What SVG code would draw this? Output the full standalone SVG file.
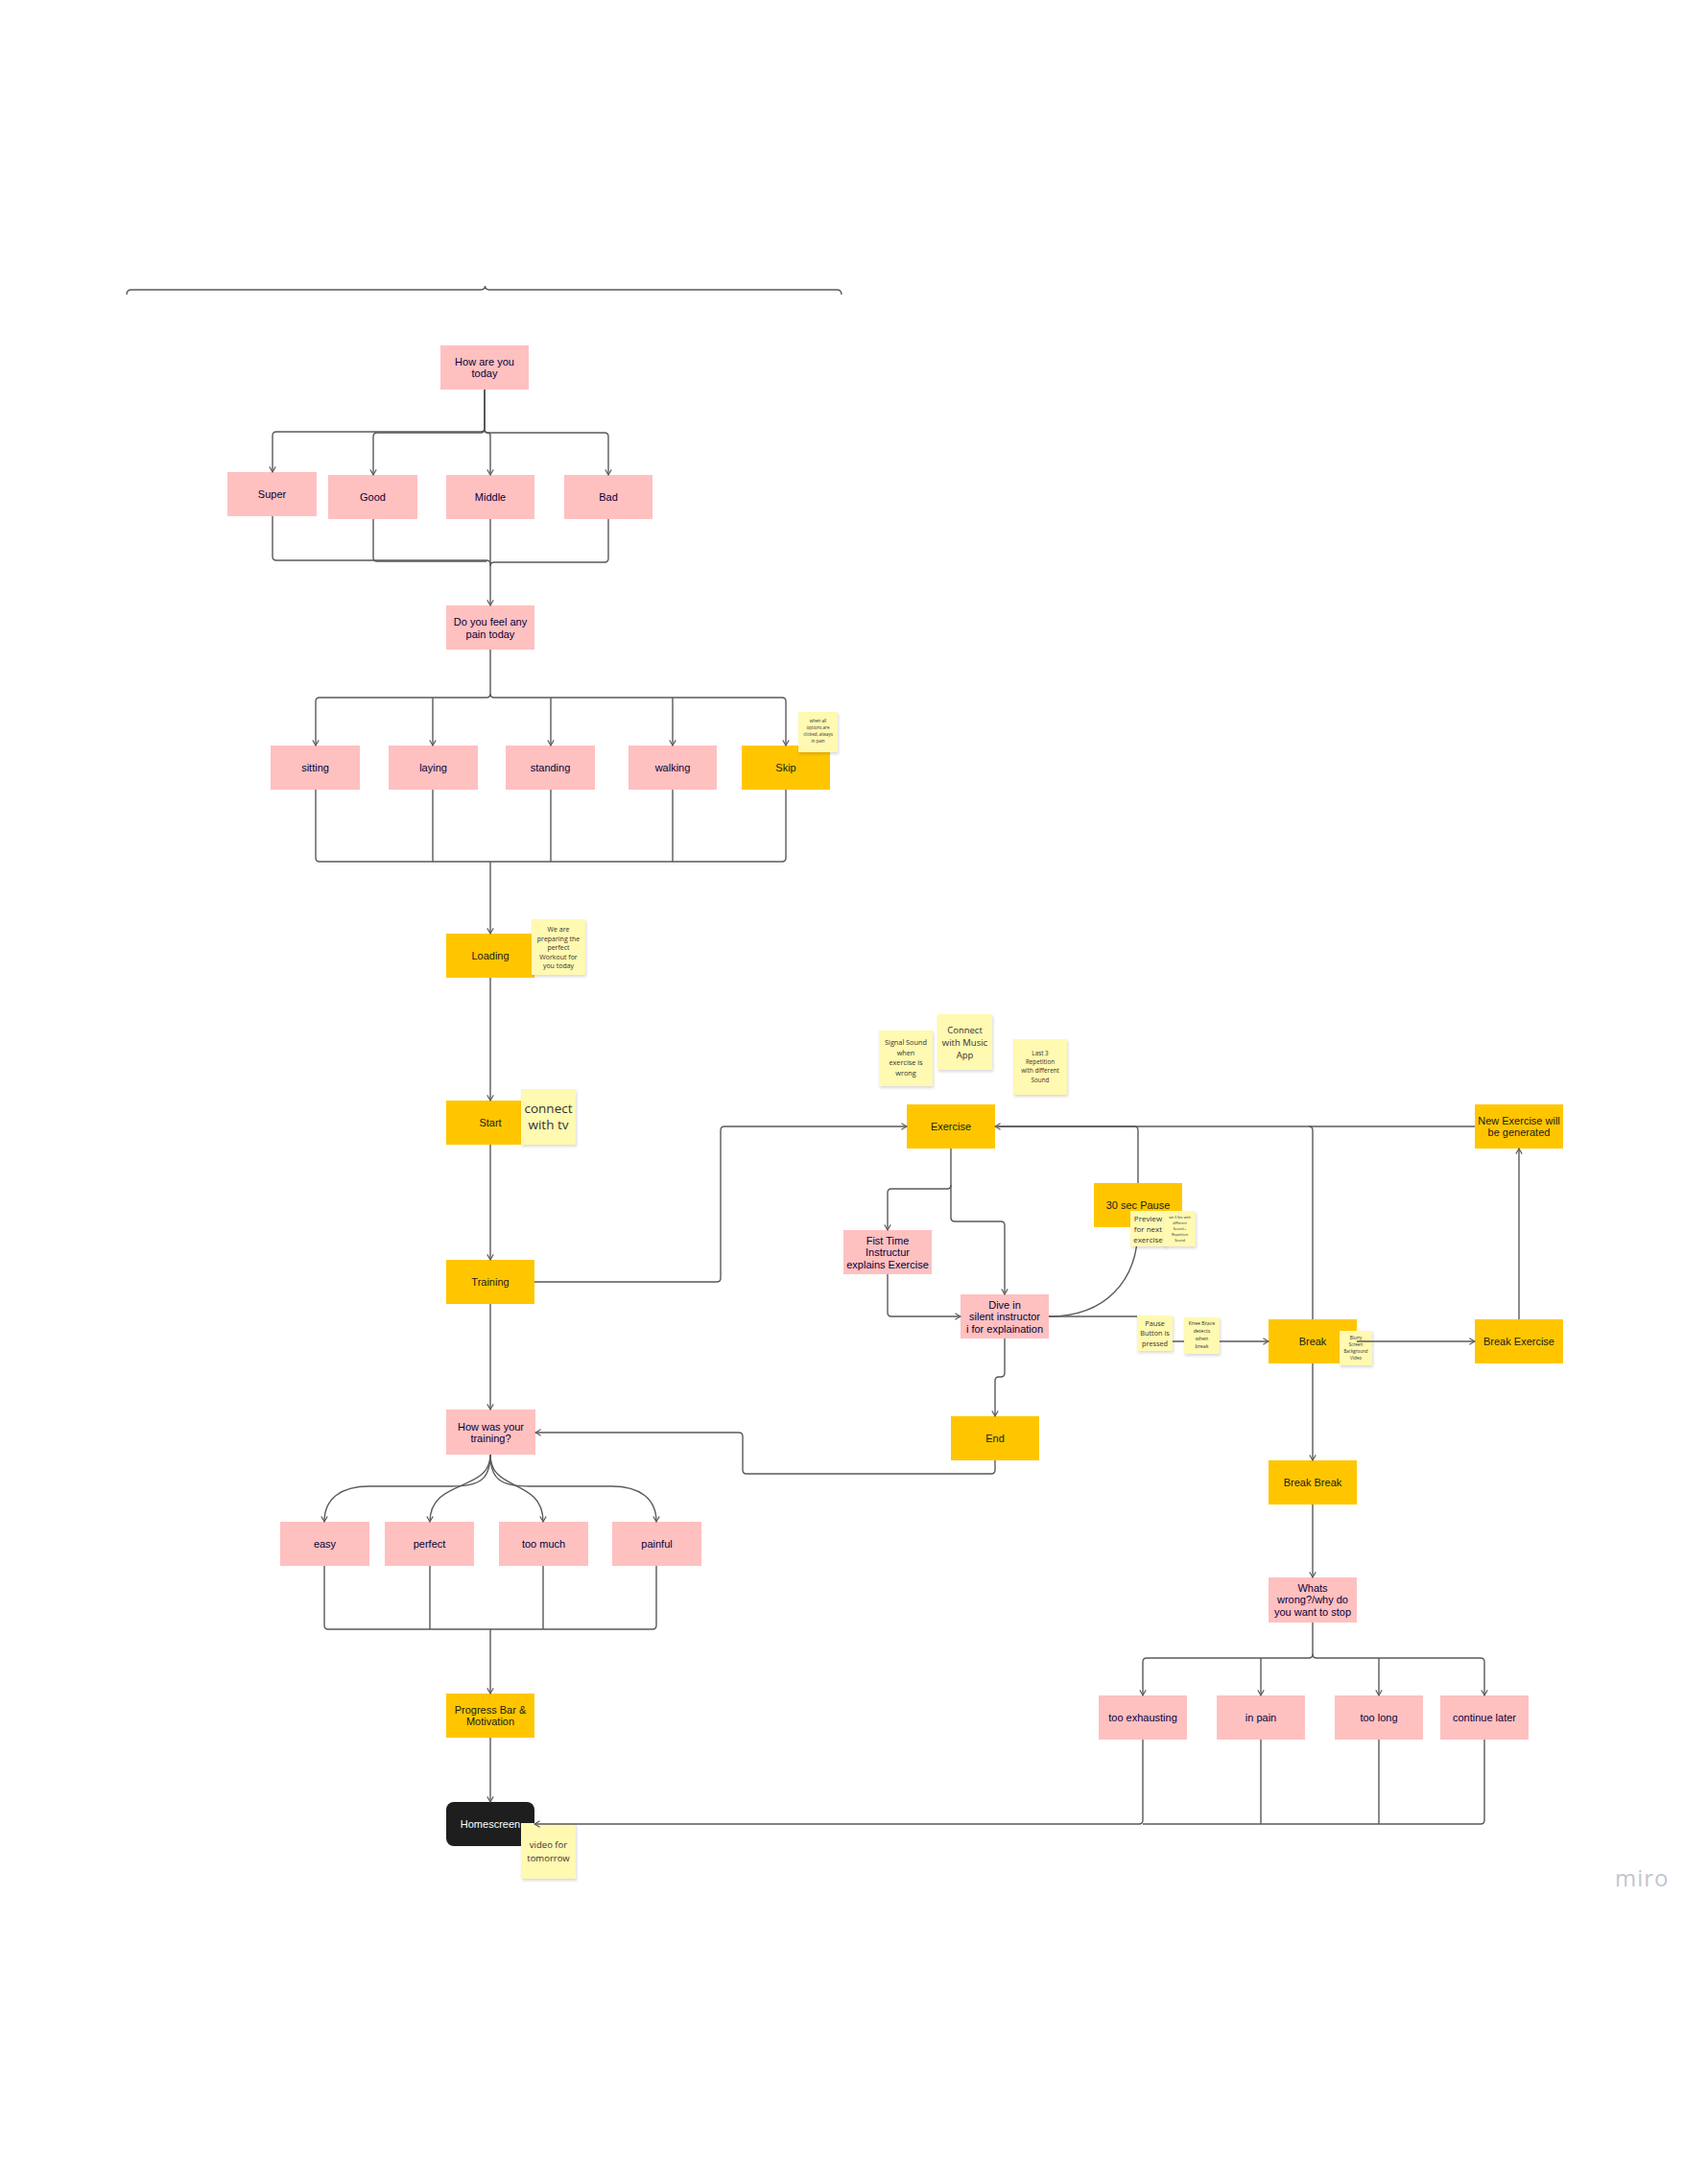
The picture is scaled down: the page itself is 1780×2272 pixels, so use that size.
<svg xmlns="http://www.w3.org/2000/svg" width="1780" height="2272" viewBox="0 0 1780 2272">
<style>
.p{fill:#FFC0C0}
.o{fill:#FFC600}
.t{font-family:"Liberation Sans",Arial,sans-serif;font-size:11px;fill:#050038;text-anchor:middle;dominant-baseline:central}
.tk{font-family:"Liberation Sans",Arial,sans-serif;font-size:11px;fill:#1a1a1a;text-anchor:middle;dominant-baseline:central}
.s{fill:#FFF9B1;filter:url(#sh)}
.st{font-family:"Open Sans","Noto Sans",sans-serif;fill:#333;text-anchor:middle;dominant-baseline:central}
.c{fill:none;stroke:#5a5a5a;stroke-width:1.4}
.ca{fill:none;stroke:#5a5a5a;stroke-width:1.4;marker-end:url(#a)}
</style>
<defs>
<marker id="a" viewBox="0 0 10 10" refX="9" refY="5" markerWidth="8" markerHeight="8" orient="auto" markerUnits="userSpaceOnUse">
<path d="M2,1 L9,5 L2,9" fill="none" stroke="#5a5a5a" stroke-width="1.4"/>
</marker>
<filter id="sh" x="-20%" y="-20%" width="150%" height="150%">
<feDropShadow dx="1" dy="2" stdDeviation="1.5" flood-color="#000" flood-opacity="0.15"/>
</filter>
</defs>
<rect width="1780" height="2272" fill="#fff"/>

<!-- brace -->
<path class="c" d="M132,307 Q132,302 137,302 H500.5 Q505.5,302 505.5,298 Q505.5,302 510.5,302 H872 Q877,302 877,307" stroke="#666"/>

<g id="nodes">
<g id="howareyou"><rect class="p" x="459" y="360" width="92" height="46"/><text class="t" x="505" y="377">How are you</text><text class="t" x="505" y="389">today</text></g>
<g id="super"><rect class="p" x="237" y="492" width="93" height="46"/><text class="t" x="283.5" y="515">Super</text></g>
<g id="good"><rect class="p" x="342" y="495" width="93" height="46"/><text class="t" x="388.5" y="518">Good</text></g>
<g id="middle"><rect class="p" x="465" y="495" width="92" height="46"/><text class="t" x="511" y="518">Middle</text></g>
<g id="bad"><rect class="p" x="588" y="495" width="92" height="46"/><text class="t" x="634" y="518">Bad</text></g>
<g id="doyoufeel"><rect class="p" x="465" y="631" width="92" height="46"/><text class="t" x="511" y="648">Do you feel any</text><text class="t" x="511" y="661">pain today</text></g>
<g id="sitting"><rect class="p" x="282" y="777" width="93" height="46"/><text class="t" x="328.5" y="800">sitting</text></g>
<g id="laying"><rect class="p" x="405" y="777" width="93" height="46"/><text class="t" x="451.5" y="800">laying</text></g>
<g id="standing"><rect class="p" x="527" y="777" width="93" height="46"/><text class="t" x="573.5" y="800">standing</text></g>
<g id="walking"><rect class="p" x="655" y="777" width="92" height="46"/><text class="t" x="701" y="800">walking</text></g>
<g id="skip"><rect class="o" x="773" y="777" width="92" height="46"/><text class="tk" x="819" y="800">Skip</text></g>
<g id="loading"><rect class="o" x="465" y="973" width="92" height="46"/><text class="tk" x="511" y="996">Loading</text></g>
<g id="start"><rect class="o" x="465" y="1147" width="92" height="46"/><text class="tk" x="511" y="1170">Start</text></g>
<g id="training"><rect class="o" x="465" y="1313" width="92" height="46"/><text class="tk" x="511" y="1336">Training</text></g>
<g id="exercise"><rect class="o" x="945" y="1151" width="92" height="46"/><text class="tk" x="991" y="1174">Exercise</text></g>
<g id="fisttime"><rect class="p" x="879" y="1282" width="92" height="46"/><text class="t" x="925" y="1293">Fist Time</text><text class="t" x="925" y="1305">Instructur</text><text class="t" x="925" y="1318">explains Exercise</text></g>
<g id="dive"><rect class="p" x="1001" y="1349" width="92" height="46"/><text class="t" x="1047" y="1360">Dive in</text><text class="t" x="1047" y="1372">silent instructor</text><text class="t" x="1047" y="1385">i for explaination</text></g>
<g id="pause30"><rect class="o" x="1140" y="1233" width="92" height="46"/><text class="tk" x="1186" y="1256">30 sec Pause</text></g>
<g id="end"><rect class="o" x="991" y="1476" width="92" height="46"/><text class="tk" x="1037" y="1499">End</text></g>
<g id="newex"><rect class="o" x="1537" y="1151" width="92" height="46"/><text class="tk" x="1583" y="1168">New Exercise will</text><text class="tk" x="1583" y="1180">be generated</text></g>
<g id="break"><rect class="o" x="1322" y="1375" width="92" height="46"/><text class="tk" x="1368" y="1398">Break</text></g>
<g id="breakex"><rect class="o" x="1537" y="1375" width="92" height="46"/><text class="tk" x="1583" y="1398">Break Exercise</text></g>
<g id="breakbreak"><rect class="o" x="1322" y="1522" width="92" height="46"/><text class="tk" x="1368" y="1545">Break Break</text></g>
<g id="whats"><rect class="p" x="1322" y="1644" width="92" height="47"/><text class="t" x="1368" y="1655">Whats</text><text class="t" x="1368" y="1667">wrong?/why do</text><text class="t" x="1368" y="1680">you want to stop</text></g>
<g id="tooexh"><rect class="p" x="1145" y="1767" width="92" height="46"/><text class="t" x="1191" y="1790">too exhausting</text></g>
<g id="inpain"><rect class="p" x="1268" y="1767" width="92" height="46"/><text class="t" x="1314" y="1790">in pain</text></g>
<g id="toolong"><rect class="p" x="1391" y="1767" width="92" height="46"/><text class="t" x="1437" y="1790">too long</text></g>
<g id="contlater"><rect class="p" x="1501" y="1767" width="92" height="46"/><text class="t" x="1547" y="1790">continue later</text></g>
<g id="howwas"><rect class="p" x="465" y="1469" width="93" height="47"/><text class="t" x="511.5" y="1487">How was your</text><text class="t" x="511.5" y="1499">training?</text></g>
<g id="easy"><rect class="p" x="292" y="1586" width="93" height="46"/><text class="t" x="338.5" y="1609">easy</text></g>
<g id="perfect"><rect class="p" x="401" y="1586" width="93" height="46"/><text class="t" x="447.5" y="1609">perfect</text></g>
<g id="toomuch"><rect class="p" x="520" y="1586" width="93" height="46"/><text class="t" x="566.5" y="1609">too much</text></g>
<g id="painful"><rect class="p" x="638" y="1586" width="93" height="46"/><text class="t" x="684.5" y="1609">painful</text></g>
<g id="progress"><rect class="o" x="465" y="1765" width="92" height="46"/><text class="tk" x="511" y="1782">Progress Bar &amp;</text><text class="tk" x="511" y="1794">Motivation</text></g>
<g id="homescreen"><rect x="465" y="1878" width="92" height="46" rx="8" fill="#1e1e1e"/><text class="tk" x="511" y="1901" style="fill:#fff">Homescreen</text></g>
<g id="note-blurry"><rect class="s" x="1396" y="1387" width="34" height="36"/><text class="st" font-size="4.5"><tspan x="1413" y="1394">Blurry</tspan><tspan x="1413" y="1401">Screen</tspan><tspan x="1413" y="1408">Background</tspan><tspan x="1413" y="1415">Video</tspan></text></g>
<g id="note-video"><rect class="s" x="543" y="1900" width="57" height="58"/><text class="st" font-size="9.5"><tspan x="571.5" y="1922">video for</tspan><tspan x="571.5" y="1936">tomorrow</tspan></text></g>
</g>

<g id="connectors">
<path class="ca" d="M505,406 V446 Q505,450 501,450 H288 Q284,450 284,454 V492"/>
<path class="ca" d="M505,406 V447 Q505,451 501,451 H393 Q389,451 389,455 V495"/>
<path class="ca" d="M505,406 V448 Q505,451 508,451 Q511,451 511,454 V495"/>
<path class="ca" d="M505,406 V447 Q505,451 509,451 H630 Q634,451 634,455 V495"/>
<path class="c" d="M284,538 V580 Q284,584 288,584 H507 Q511,584 511,588"/>
<path class="c" d="M389,541 V581 Q389,585 393,585 H507"/>
<path class="c" d="M634,541 V582 Q634,586 630,586 H515 Q511,586 511,590"/>
<path class="ca" d="M511,541 V631"/>
<path class="ca" d="M511,677 V723 Q511,727 507,727 H333 Q329,727 329,731 V777"/>
<path class="ca" d="M451,727 V777"/>
<path class="ca" d="M574,727 V777"/>
<path class="ca" d="M701,727 V777"/>
<path class="ca" d="M511,723 Q511,727 515,727 H815 Q819,727 819,731 V777"/>
<path class="c" d="M329,823 V894 Q329,898 333,898 H815 Q819,898 819,894 V823"/>
<path class="c" d="M451,823 V898 M574,823 V898 M701,823 V898"/>
<path class="ca" d="M511,898 V973"/>
<path class="ca" d="M511,1019 V1147"/>
<path class="ca" d="M511,1193 V1313"/>
<path class="ca" d="M557,1336 H747 Q751,1336 751,1332 V1178 Q751,1174 755,1174 H945"/>
<path class="ca" d="M511,1359 V1469"/>
<path class="ca" d="M991,1197 V1235 Q991,1239 987,1239 H929 Q925,1239 925,1243 V1282"/>
<path class="ca" d="M991,1235 V1269 Q991,1273 995,1273 H1043 Q1047,1273 1047,1277 V1349"/>
<path class="ca" d="M925,1328 V1368 Q925,1372 929,1372 H1001"/>
<path class="c" d="M1093,1372 C1152,1372 1186,1335 1186,1279"/>
<path class="ca" d="M1537,1174 H1037"/>
<path class="c" d="M1186,1233 V1178 Q1186,1174 1182,1174 H1040"/>
<path class="c" d="M1368,1375 V1178 Q1368,1174 1364,1174"/>
<path class="ca" d="M1093,1372 H1195 Q1199,1372 1199,1376 V1394 Q1199,1398 1203,1398 H1322"/>
<path class="ca" d="M1414,1398 H1537"/>
<path class="ca" d="M1583,1375 V1197"/>
<path class="ca" d="M1368,1421 V1522"/>
<path class="ca" d="M1368,1568 V1644"/>
<path class="ca" d="M1368,1691 V1724 Q1368,1728 1364,1728 H1195 Q1191,1728 1191,1732 V1767"/>
<path class="ca" d="M1314,1728 V1767"/>
<path class="ca" d="M1437,1728 V1767"/>
<path class="ca" d="M1368,1724 Q1368,1728 1372,1728 H1543 Q1547,1728 1547,1732 V1767"/>
<path class="ca" d="M1191,1813 V1897 Q1191,1901 1187,1901 H557"/>
<path class="c" d="M1314,1813 V1901 M1437,1813 V1901"/>
<path class="c" d="M1547,1813 V1897 Q1547,1901 1543,1901 H1191"/>
<path class="ca" d="M1047,1395 V1431 Q1047,1435 1043,1435 H1041 Q1037,1435 1037,1439 V1476"/>
<path class="ca" d="M1037,1522 V1532 Q1037,1536 1033,1536 H778 Q774,1536 774,1532 V1497 Q774,1493 770,1493 H558"/>
<path class="ca" d="M511,1516 C511,1542 500,1549 470,1549 L385,1549 C355,1549 338,1562 338,1586"/>
<path class="ca" d="M511,1516 C511,1556 448,1540 448,1586"/>
<path class="ca" d="M511,1516 C511,1556 566,1540 566,1586"/>
<path class="ca" d="M511,1516 C511,1542 522,1549 552,1549 L637,1549 C667,1549 684,1562 684,1586"/>
<path class="c" d="M338,1632 V1694 Q338,1698 342,1698 H680 Q684,1698 684,1694 V1632"/>
<path class="c" d="M448,1632 V1698 M566,1632 V1698"/>
<path class="ca" d="M511,1698 V1765"/>
<path class="ca" d="M511,1811 V1878"/>
</g>

<g id="notes">
<g id="note-allopts"><rect class="s" x="832" y="742" width="41" height="42"/><text class="st" font-size="4.5"><tspan x="852.5" y="751">when all</tspan><tspan x="852.5" y="758">options are</tspan><tspan x="852.5" y="765">clicked, always</tspan><tspan x="852.5" y="772">in pain</tspan></text></g>
<g id="note-preparing"><rect class="s" x="554" y="958" width="56" height="58"/><text class="st" font-size="7"><tspan x="582" y="968">We are</tspan><tspan x="582" y="977.5">preparing the</tspan><tspan x="582" y="987">perfect</tspan><tspan x="582" y="996.5">Workout for</tspan><tspan x="582" y="1006">you today</tspan></text></g>
<g id="note-tv"><rect class="s" x="543" y="1135" width="57" height="58"/><text class="st" font-size="13.5"><tspan x="571.5" y="1155">connect</tspan><tspan x="571.5" y="1172">with tv</tspan></text></g>
<g id="note-signal"><rect class="s" x="916" y="1074" width="56" height="58"/><text class="st" font-size="7.3"><tspan x="944" y="1086">Signal Sound</tspan><tspan x="944" y="1097">when</tspan><tspan x="944" y="1107">exercise is</tspan><tspan x="944" y="1118">wrong</tspan></text></g>
<g id="note-music"><rect class="s" x="977" y="1057" width="57" height="58"/><text class="st" font-size="9.5"><tspan x="1005.5" y="1073">Connect</tspan><tspan x="1005.5" y="1086">with Music</tspan><tspan x="1005.5" y="1099">App</tspan></text></g>
<g id="note-last3"><rect class="s" x="1056" y="1083" width="56" height="58"/><text class="st" font-size="6.3"><tspan x="1084" y="1097">Last 3</tspan><tspan x="1084" y="1106">Repetition</tspan><tspan x="1084" y="1115">with different</tspan><tspan x="1084" y="1125">Sound</tspan></text></g>
<g id="note-preview"><rect class="s" x="1178" y="1262" width="37" height="37"/><text class="st" font-size="8"><tspan x="1196.5" y="1269">Preview</tspan><tspan x="1196.5" y="1280">for next</tspan><tspan x="1196.5" y="1291">exercise</tspan></text></g>
<g id="note-wit3"><rect class="s" x="1213" y="1262" width="33" height="37"/><text class="st" font-size="3.6"><tspan x="1229.5" y="1268">wit 3 Sec with</tspan><tspan x="1229.5" y="1274">different</tspan><tspan x="1229.5" y="1280">Sound +</tspan><tspan x="1229.5" y="1286">Repetition</tspan><tspan x="1229.5" y="1292">Sound</tspan></text></g>
<g id="note-pausebtn"><rect class="s" x="1185" y="1371" width="37" height="37"/><text class="st" font-size="7.3"><tspan x="1203.5" y="1379">Pause</tspan><tspan x="1203.5" y="1389">Button is</tspan><tspan x="1203.5" y="1400">pressed</tspan></text></g>
<g id="note-knee"><rect class="s" x="1234" y="1373" width="37" height="38"/><text class="st" font-size="5.2"><tspan x="1252.5" y="1379">Knee Brace</tspan><tspan x="1252.5" y="1387">detects</tspan><tspan x="1252.5" y="1395">when</tspan><tspan x="1252.5" y="1403">break</tspan></text></g>
</g>

<text x="1683" y="1966" font-family="'Open Sans','Noto Sans',sans-serif" font-size="24" fill="#c4c4d2" letter-spacing="1">miro</text>
</svg>
